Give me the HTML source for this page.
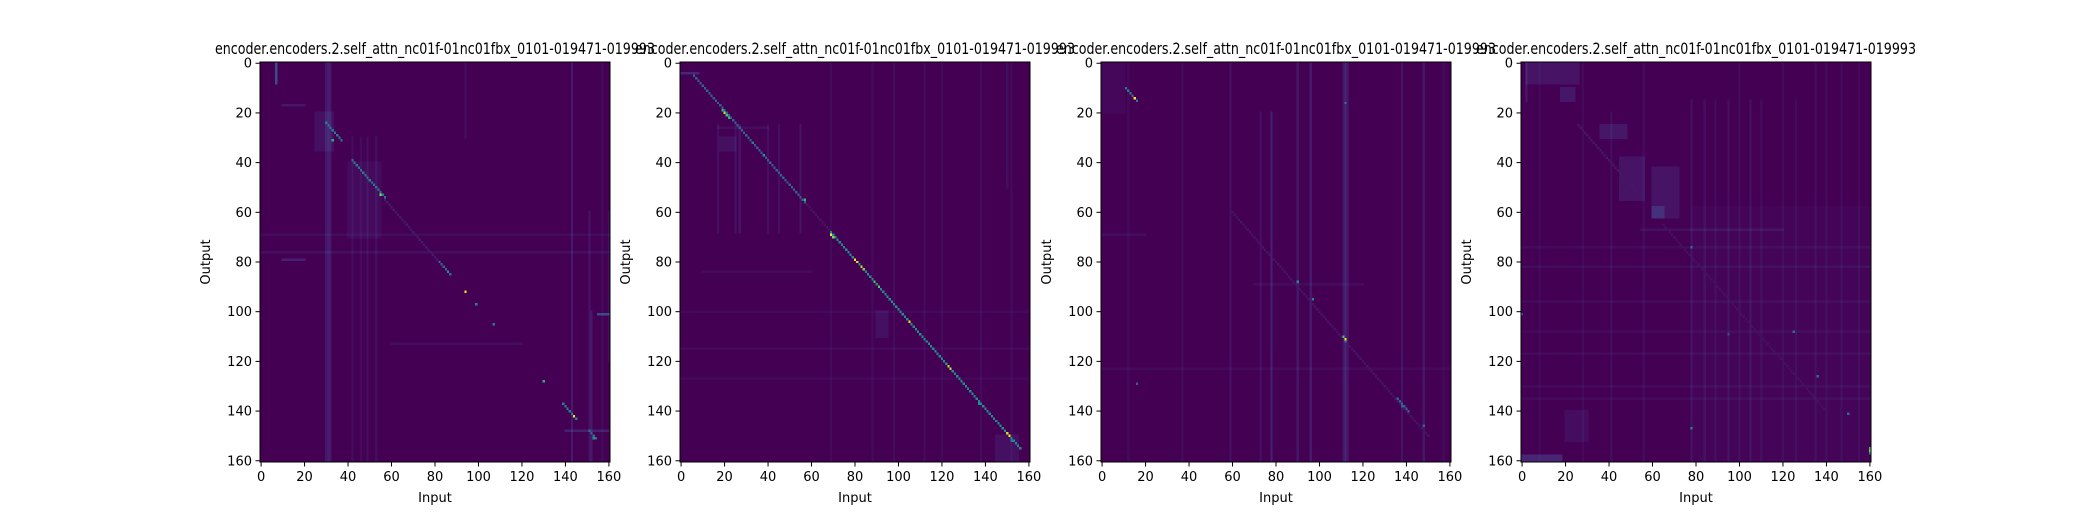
<!DOCTYPE html>
<html><head><meta charset="utf-8">
<style>
html,body{margin:0;padding:0;background:#fff;width:2080px;height:520px;overflow:hidden}
#wrap{position:relative;width:2080px;height:520px}
canvas{position:absolute;image-rendering:pixelated;width:350px;height:400px;top:62px}
svg{position:absolute;left:0;top:0}
text{font-family:"DejaVu Sans","Liberation Sans",sans-serif;fill:#000}
</style></head>
<body>
<div id="wrap">
<canvas id="c0" width="161" height="161" style="left:260px"></canvas>
<canvas id="c1" width="161" height="161" style="left:680px"></canvas>
<canvas id="c2" width="161" height="161" style="left:1101px"></canvas>
<canvas id="c3" width="161" height="161" style="left:1521px"></canvas>
<svg id="s" width="2080" height="520"></svg>
</div>
<script>
// ---- data (N x N attention maps) ----
const N = 161;
const ticks = [0,20,40,60,80,100,120,140,160];
const titles = ["encoder.encoders.2.self_attn_nc01f-01nc01fbx_0101-019471-019993",
                "encoder.encoders.2.self_attn_nc01f-01nc01fbx_0101-019471-019993",
                "encoder.encoders.2.self_attn_nc01f-01nc01fbx_0101-019471-019993",
                "encoder.encoders.2.self_attn_nc01f-01nc01fbx_0101-019471-019993"];
// column streaks: [col, rowFrom, rowTo, value]
const colStreaks1 = [[30,0,160,0.07],[31,0,160,0.1],[32,0,160,0.07],[42,30,160,0.04],[46,30,160,0.035],[49,30,160,0.045],[53,30,160,0.04],[7,0,8,0.25],[94,0,30,0.04],[143,0,160,0.08],[151,60,160,0.06],[152,100,160,0.08],[160,60,120,0.05],[157,0,160,0.03]];
const rowStreaks1 = [[69,0,160,0.035],[76,0,160,0.045],[17,10,20,0.07],[79,10,20,0.1],[101,155,160,0.25],[113,60,120,0.04],[148,140,160,0.1]];
const blocks1 = [[20,35,25,33,0.05],[40,70,40,55,0.03]];
const diags1 = [[24,31,6,0.45],[39,54,3,0.45],[80,85,2,0.4],[137,143,2,0.5],[148,151,3,0.4],[55,80,2,0.08]];
const spots1 = [[31,33,0.7],[53,55,0.9],[92,94,1.0],[97,99,0.55],[105,107,0.45],[128,130,0.7],[142,144,1.0],[151,153,0.6],[84,86,0.6]];

const colStreaks2 = [[17,25,68,0.05],[25,25,68,0.05],[27,25,68,0.06],[40,25,68,0.05],[45,25,68,0.05],[55,25,68,0.06],[69,0,160,0.03],[88,0,160,0.03],[98,0,160,0.035],[112,0,160,0.035],[120,0,160,0.03],[138,0,160,0.035],[150,0,50,0.04],[152,0,160,0.03]];
const rowStreaks2 = [[4,0,8,0.12],[26,17,40,0.04],[84,10,60,0.03],[115,0,160,0.025],[127,0,160,0.025],[100,0,160,0.025]];
const blocks2 = [[100,110,90,95,0.05],[150,160,145,155,0.05],[30,35,18,25,0.05]];
const diags2 = [[5,56,1,0.35],[68,155,1,0.55],[57,67,1,0.06]];
const spots2 = [[19,19,0.75],[20,20,0.95],[21,21,0.8],[22,22,0.75],[32,33,0.5],[37,38,0.6],[55,57,0.75],[69,69,1.0],[70,70,0.9],[79,80,1.0],[80,81,0.95],[82,83,0.95],[83,84,0.9],[88,89,0.8],[90,91,0.85],[104,105,1.0],[122,123,0.95],[123,124,0.95],[137,137,0.55],[149,150,0.95],[150,151,1.0],[152,152,0.45]];

const colStreaks3 = [[37,0,160,0.035],[59,0,160,0.05],[73,20,160,0.04],[78,20,160,0.1],[90,0,160,0.07],[96,0,160,0.08],[111,0,160,0.07],[112,0,160,0.12],[113,0,160,0.06],[138,0,160,0.06],[148,0,160,0.07],[157,0,160,0.03],[12,0,160,0.025]];
const rowStreaks3 = [[69,0,20,0.04],[89,70,120,0.035],[123,0,160,0.03]];
const blocks3 = [[0,20,0,10,0.02]];
const diags3 = [[10,15,1,0.45],[60,150,0,0.06],[135,140,1,0.35]];
const spots3 = [[14,15,1.0],[16,112,0.5],[88,90,0.55],[95,97,0.55],[110,111,0.8],[111,112,1.0],[112,112,0.45],[146,148,0.35],[138,138,0.35],[129,16,0.35]];

const colStreaks4 = [[2,0,15,0.08],[8,0,160,0.025],[28,0,160,0.03],[41,20,160,0.035],[56,0,160,0.03],[78,15,160,0.05],[84,15,160,0.04],[89,15,160,0.035],[95,15,160,0.05],[100,0,160,0.035],[105,15,160,0.05],[110,15,160,0.03],[120,0,160,0.03],[126,15,160,0.035],[135,0,160,0.04],[140,0,160,0.03],[147,0,160,0.035],[155,0,160,0.03]];
const rowStreaks4 = [[74,0,160,0.03],[82,0,160,0.035],[96,0,160,0.03],[108,0,160,0.03],[117,0,160,0.03],[130,0,160,0.03],[135,0,160,0.03],[67,55,120,0.05]];
const blocks4 = [[0,8,2,26,0.06],[10,15,18,24,0.07],[25,30,36,48,0.07],[38,55,45,56,0.06],[42,62,60,72,0.06],[58,62,60,65,0.1],[140,152,20,30,0.04],[158,160,0,18,0.12],[58,160,78,160,0.015]];
const diags4 = [[25,55,1,0.07],[65,140,0,0.05]];
const spots4 = [[155,160,0.8],[156,160,0.9],[157,160,0.6],[147,78,0.6],[74,78,0.45],[101,0,0.3],[109,95,0.3],[141,150,0.4],[126,136,0.4],[108,125,0.4]];

const panels = [
  {cols:colStreaks1, rows:rowStreaks1, blocks:blocks1, diags:diags1, spots:spots1},
  {cols:colStreaks2, rows:rowStreaks2, blocks:blocks2, diags:diags2, spots:spots2},
  {cols:colStreaks3, rows:rowStreaks3, blocks:blocks3, diags:diags3, spots:spots3},
  {cols:colStreaks4, rows:rowStreaks4, blocks:blocks4, diags:diags4, spots:spots4}
];
const lefts = [260,680,1101,1521];
const W = 350, H = 400, TOP = 62;

const vir = [[0,68,1,84],[0.13,72,40,120],[0.25,62,73,137],[0.38,49,104,142],[0.5,38,130,142],[0.63,31,158,137],[0.75,53,183,121],[0.88,110,206,88],[1,253,231,37]];
function viridis(t){
  t=Math.max(0,Math.min(1,t));
  for(let i=1;i<vir.length;i++){
    if(t<=vir[i][0]){const a=vir[i-1],b=vir[i],f=(t-a[0])/(b[0]-a[0]);
      return [a[1]+f*(b[1]-a[1]),a[2]+f*(b[2]-a[2]),a[3]+f*(b[3]-a[3])];}
  }
  return vir[vir.length-1].slice(1);
}
function buildGrid(p){
  const g = new Float32Array(N*N);
  p.cols.forEach(([c,r0,r1,v])=>{for(let r=r0;r<=r1;r++) g[r*N+c]+=v;});
  p.rows.forEach(([r,c0,c1,v])=>{for(let c=c0;c<=c1;c++) g[r*N+c]+=v;});
  p.blocks.forEach(([r0,r1,c0,c1,v])=>{for(let r=r0;r<=r1;r++)for(let c=c0;c<=c1;c++) g[r*N+c]+=v;});
  p.diags.forEach(([r0,r1,o,v])=>{for(let r=r0;r<=r1;r++){const c=r+o; if(c>=0&&c<N) g[r*N+c]=Math.max(g[r*N+c],v);}});
  p.spots.forEach(([r,c,v])=>{g[r*N+c]=Math.max(g[r*N+c],v);});
  return g;
}
panels.forEach((p,k)=>{
  const cv=document.getElementById('c'+k), ctx=cv.getContext('2d');
  const img=ctx.createImageData(N,N), g=buildGrid(p);
  for(let i=0;i<N*N;i++){const col=viridis(g[i]);img.data[i*4]=col[0];img.data[i*4+1]=col[1];img.data[i*4+2]=col[2];img.data[i*4+3]=255;}
  ctx.putImageData(img,0,0);
});

const svg=document.getElementById('s'), NS='http://www.w3.org/2000/svg';
function mk(tag,attrs,txt){const e=document.createElementNS(NS,tag);for(const k in attrs)e.setAttribute(k,attrs[k]);if(txt!==undefined)e.textContent=txt;svg.appendChild(e);return e;}
const xs=(L,v)=>L+(v+0.5)/N*W;
const ys=v=>TOP+(v+0.5)/N*H;
lefts.forEach((L,k)=>{
  const fr=mk('rect',{x:L,y:TOP,width:W,height:H,fill:'none',stroke:'#000','stroke-width':1});
  
  
  ticks.forEach(t=>{
    const x=xs(L,t);
    const tl=mk('line',{x1:x,y1:TOP+H,x2:x,y2:TOP+H+4.5,stroke:'#000','stroke-width':1});
    
    
    const tx=mk('text',{x:x,y:TOP+H+19,'font-size':13,'text-anchor':'middle'},String(t));
    
    
    const y=ys(t);
    const yl=mk('line',{x1:L-4.5,y1:y,x2:L,y2:y,stroke:'#000','stroke-width':1});
    
    
    const ty=mk('text',{x:L-8,y:y+4.5,'font-size':13,'text-anchor':'end'},String(t));
    
    
  });
  const xt=mk('text',{x:L+W/2,y:502,'font-size':13,'text-anchor':'middle'},'Input');
  
  
  const yt=mk('text',{x:0,y:0,'font-size':13,'text-anchor':'middle',transform:`translate(${L-50},${TOP+H/2}) rotate(-90)`},'Output');
  
  
  const tt=mk('text',{x:L+W/2,y:54,'font-size':16,'text-anchor':'middle',textLength:440,lengthAdjust:'spacingAndGlyphs'},titles[k]);
  
  
});
</script>
</body></html>
